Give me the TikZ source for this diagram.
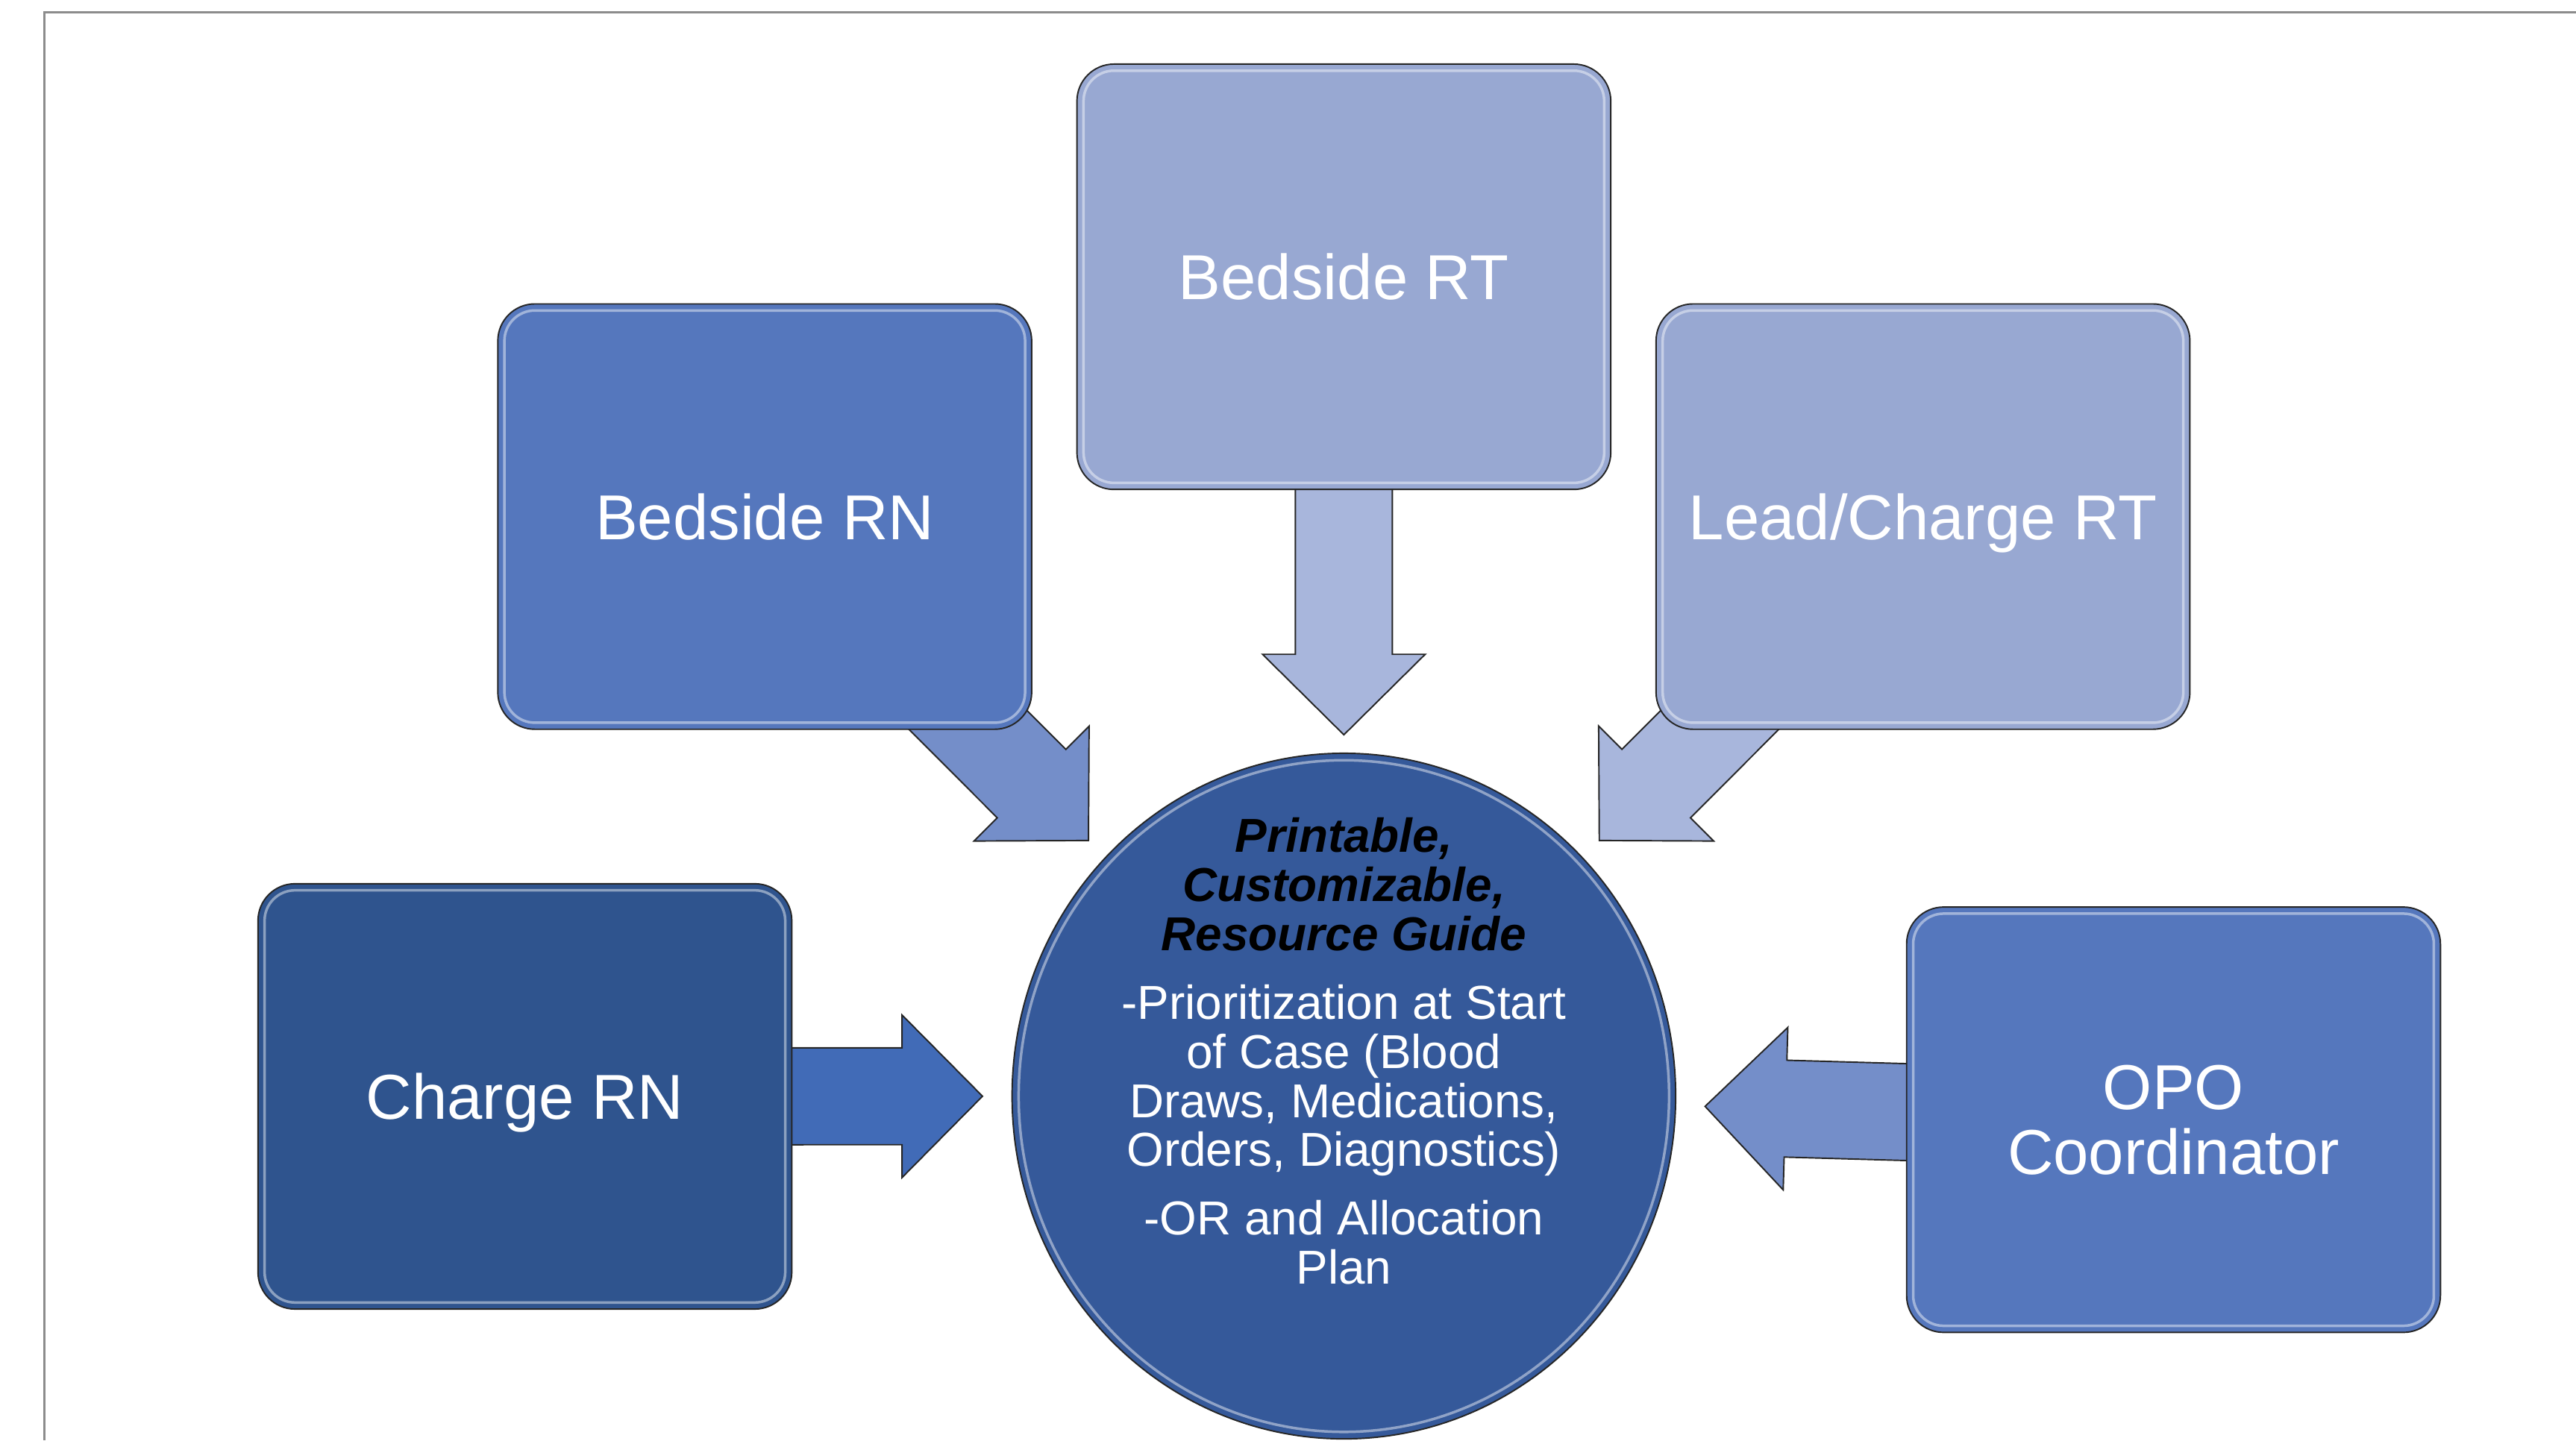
\documentclass[tikz,border=0pt]{standalone}
\usepackage{fontspec}
\setmainfont{Liberation Sans}
\usetikzlibrary{shapes.geometric,calc,backgrounds}

\definecolor{rolelight}{HTML}{98A8D2}
\definecolor{rolemid}{HTML}{5577BD}
\definecolor{roledark}{HTML}{2F548E}
\definecolor{hubblue}{HTML}{35599A}
\definecolor{arrowpale}{HTML}{A8B6DC}
\definecolor{arrowmid}{HTML}{748EC9}
\definecolor{arrowdeep}{HTML}{416BB7}
\definecolor{slideframe}{HTML}{8C8C8C}

\tikzset{
  gloss/.style={draw=white, draw opacity=0.45, line width=0.9pt},
  role/.style={draw=black!85, line width=0.5pt, rounded corners=0.45cm,
    minimum width=6.5cm, minimum height=5.18cm, inner sep=0pt,
    text=white, align=center, text depth=0pt,
    font=\fontsize{22}{22.7}\selectfont,
    path picture={\draw[gloss, rounded corners=0.37cm]
      ([shift={(4,4)}]path picture bounding box.north west) rectangle
      ([shift={(-4,-4)}]path picture bounding box.south east);}},
  hub/.style={ellipse, draw=black!85, line width=0.5pt, fill=hubblue,
    minimum width=8.08cm, minimum height=8.35cm, inner sep=0pt,
    path picture={\draw[gloss] (path picture bounding box.center)
      ellipse [x radius=3.96cm, y radius=4.09cm];}},
  guidetext/.style={text=white, align=center,
    font=\fontsize{16.5}{17}\selectfont},
  feed/.style={draw=black!85, line width=0.5pt, line join=miter},
  frame/.style={draw=slideframe, line width=0.6pt}
}

\newcommand{\guidehead}[1]{{\color{black}\bfseries\itshape #1}}

\newcommand{\feedarrow}[2]{%
  \coordinate (#1tip) at ($(hub.center)!4.4cm!(#1.center)$);
  \coordinate (#1back) at ($(#1tip)!0.98cm!(#1.center)$);
  \filldraw[feed, fill=#2] (#1tip)
    -- ($(#1back)!0.99cm!90:(#1tip)$) -- ($(#1back)!0.59cm!90:(#1tip)$)
    -- ($(#1.center)!0.59cm!90:(#1tip)$) -- ($(#1.center)!0.59cm!-90:(#1tip)$)
    -- ($(#1back)!0.59cm!-90:(#1tip)$) -- ($(#1back)!0.99cm!-90:(#1tip)$)
    -- cycle;
}

\begin{document}
\begin{tikzpicture}[x=0.02cm, y=-0.02cm]
  \useasboundingbox (0,0) rectangle (1568,877);

  \draw[frame] (1568,7.5) -- (27,7.5) -- (27,877);

  \node[hub] (hub) at (818,667.3) {};
  \node[guidetext] (guide) at (818,640) {
    \guidehead{Printable,}\\ \guidehead{Customizable,}\\
    \guidehead{Resource Guide}\\[6.8pt]
    -Prioritization at Start\\ of Case (Blood\\ Draws, Medications,\\
    Orders, Diagnostics)\\[6.8pt]
    -OR and Allocation\\ Plan};

  \node[role, fill=rolemid] (rn) at (465.5,314.5) {Bedside RN};
  \node[role, fill=rolelight] (rt) at (818,168.5) {Bedside RT};
  \node[role, fill=rolelight] (lead) at (1170.5,314.5) {Lead/Charge RT};
  \node[role, fill=roledark] (charge) at (319.5,667.5) {Charge RN};
  \node[role, fill=rolemid] (opo) at (1323,681.7) {OPO\\Coordinator};

  \begin{scope}[on background layer]
    \feedarrow{rt}{arrowpale}
    \feedarrow{lead}{arrowpale}
    \feedarrow{rn}{arrowmid}
    \feedarrow{opo}{arrowmid}
    \feedarrow{charge}{arrowdeep}
  \end{scope}
\end{tikzpicture}
\end{document}
